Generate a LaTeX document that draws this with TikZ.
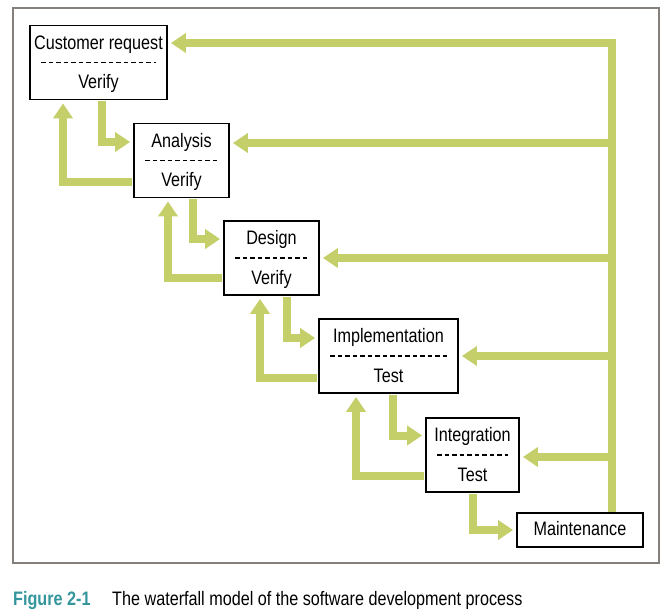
\documentclass[tikz,border=0pt]{standalone}
\usepackage{fontspec}
\setmainfont{Liberation Sans}[FakeStretch=0.83]
\usetikzlibrary{arrows.meta}
\definecolor{flowgreen}{RGB}{197,207,106}
\definecolor{framegray}{RGB}{133,128,123}
\definecolor{capteal}{RGB}{52,150,156}
\begin{document}
\begin{tikzpicture}[x=1pt,y=-1pt,
  phase/.style={draw=black,line width=1.8pt,fill=white,minimum height=74pt,inner sep=0pt},
  lbl/.style={anchor=base,inner sep=0pt,font=\fontsize{19.5}{22}\selectfont},
  sep/.style={line width=1.8pt,dash pattern=on 4.5pt off 3pt},
  flow/.style={draw=flowgreen,line width=8pt,shorten <=0.9pt,shorten >=3pt,
    -{Triangle[width=19pt,length=15pt]}}]
\useasboundingbox (0,0) rectangle (670,613);
\draw[framegray,line width=2pt] (13,8) rectangle (659,563);
\node[phase,minimum width=137pt] (cr) at (98.5,62.5) {};
\node[phase,minimum width=95pt] (an) at (181.5,160.5) {};
\node[phase,minimum width=95pt] (de) at (271.5,258) {};
\node[phase,minimum width=139pt] (im) at (388.5,356) {};
\node[phase,minimum width=93pt] (in) at (472.5,455) {};
\node[phase,minimum width=126pt,minimum height=34pt] (ma) at (580,530) {};
\node[lbl] (crT) at ([yshift=13.5pt]cr.center) {Customer request};
\node[lbl] (crB) at ([yshift=-26pt]cr.center) {Verify};
\node[lbl] (anT) at ([yshift=13.5pt]an.center) {Analysis};
\node[lbl] (anB) at ([yshift=-26pt]an.center) {Verify};
\node[lbl] (deT) at ([yshift=13.5pt]de.center) {Design};
\node[lbl] (deB) at ([yshift=-26pt]de.center) {Verify};
\node[lbl] (imT) at ([yshift=13.5pt]im.center) {Implementation};
\node[lbl] (imB) at ([yshift=-26pt]im.center) {Test};
\node[lbl] (inT) at ([yshift=13.5pt]in.center) {Integration};
\node[lbl] (inB) at ([yshift=-26pt]in.center) {Test};
\node[lbl] (maT) at ([yshift=-5pt]ma.center) {Maintenance};
\foreach \b in {cr,an,de,im,in}
  \draw[sep] ([xshift=12pt]\b.west) -- ([xshift=-12pt]\b.east);
\draw[flow] ([xshift=3.5pt]cr.south) |- ([yshift=18.5pt]an.west);
\draw[flow] ([xshift=11.5pt]an.south) |- ([yshift=19pt]de.west);
\draw[flow] ([xshift=15.5pt]de.south) |- ([yshift=18pt]im.west);
\draw[flow] ([xshift=4.5pt]im.south) |- ([yshift=19.5pt]in.west);
\draw[flow] (in.south) |- (ma.west);
\draw[flow] ([yshift=-21.5pt]an.west) -| ([xshift=-35.5pt]cr.south);
\draw[flow] ([yshift=-20pt]de.west) -| ([xshift=-13.5pt]an.south);
\draw[flow] ([yshift=-22pt]im.west) -| ([xshift=-11.5pt]de.south);
\draw[flow] ([yshift=-21pt]in.west) -| ([xshift=-32.5pt]im.south);
\coordinate (trk) at (612,43);
\coordinate (fb2) at (612,143);
\coordinate (fb3) at (612,258);
\coordinate (fb4) at (612,356);
\coordinate (fb5) at (612,457);
\draw[flow,shorten <=0pt] (ma.north -| trk) -- (trk) -- (trk -| cr.east);
\foreach \c/\b in {fb2/an,fb3/de,fb4/im,fb5/in}
  \draw[flow,shorten <=0pt] (\c) -- (\c -| \b.east);
\node[anchor=base west,inner sep=0pt,font=\fontsize{19.5}{22}\selectfont\bfseries,text=capteal] (fig) at (13,605) {Figure 2-1};
\node[anchor=base west,inner sep=0pt,font=\fontsize{19.5}{22}\selectfont] (cap) at (112,605) {The waterfall model of the software development process};
\end{tikzpicture}
\end{document}
